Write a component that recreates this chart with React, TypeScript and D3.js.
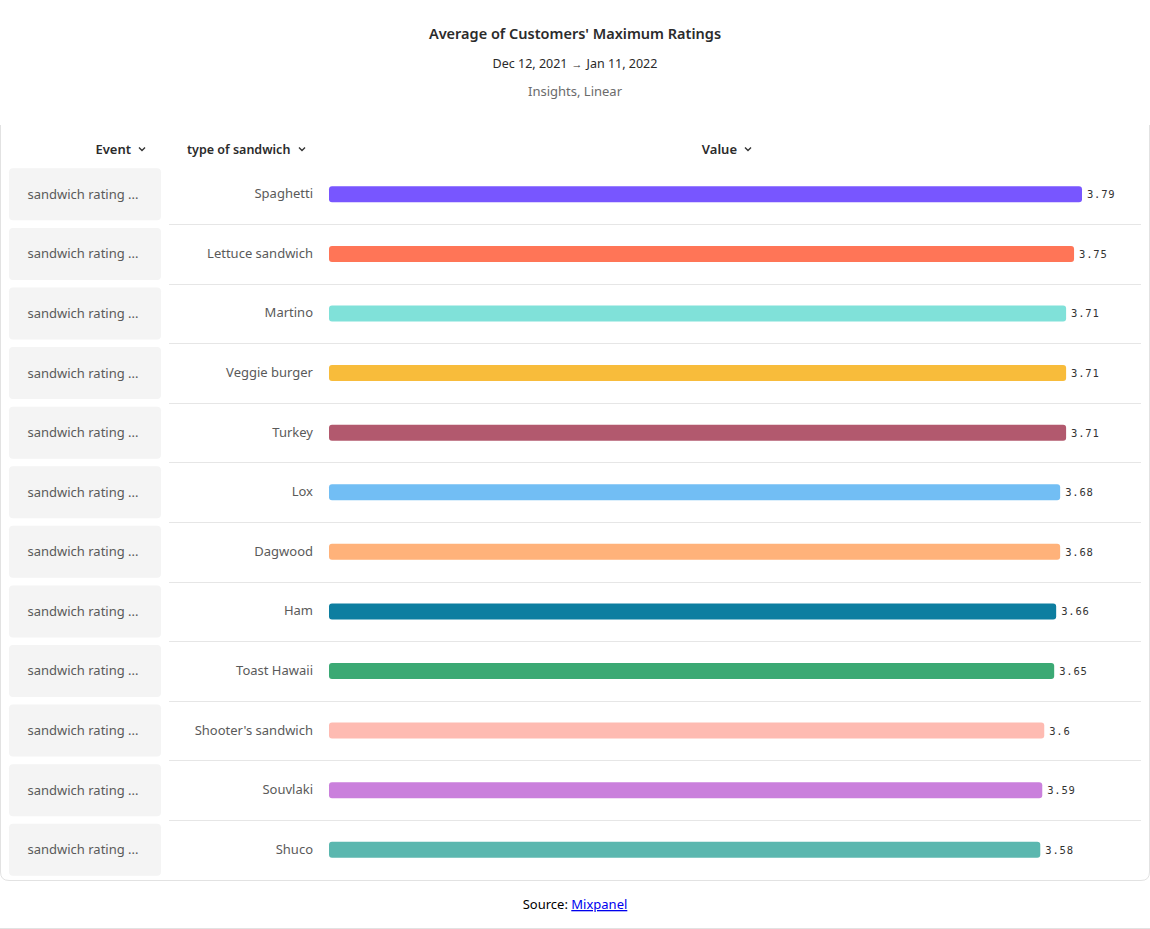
import React from "react";
import * as d3 from "d3";

const categories = [
  "Spaghetti",
  "Lettuce sandwich",
  "Martino",
  "Veggie burger",
  "Turkey",
  "Lox",
  "Dagwood",
  "Ham",
  "Toast Hawaii",
  "Shooter's sandwich",
  "Souvlaki",
  "Shuco",
];
const values = [3.79, 3.75, 3.71, 3.71, 3.71, 3.68, 3.68, 3.66, 3.65, 3.6, 3.59, 3.58];
const colors = [
  "#7856FF", "#FF7557", "#80E1D9", "#F8BC3B", "#B2596E", "#72BEF4",
  "#FFB27A", "#0D7EA0", "#3BA974", "#FEBBB2", "#CA80DC", "#5BB7AF",
];
const eventLabel = "sandwich rating ...";
const title = "Average of Customers' Maximum Ratings";
const dateStart = "Dec 12, 2021";
const dateEnd = "Jan 11, 2022";
const subtitle = "Insights, Linear";

const W = 1150;
const H = 929;
const FONT = "'Noto Sans', sans-serif";

function Chevron({ x, y }: { x: number; y: number }) {
  return (
    <path
      d={`M${x - 3},${y - 1.5} L${x},${y + 1.5} L${x + 3},${y - 1.5}`}
      fill="none"
      stroke="#333"
      strokeWidth={1.4}
    />
  );
}

export default function App() {
  const x = d3.scaleLinear().domain([0, d3.max(values) as number]).range([329, 1082]);
  const y = d3
    .scaleBand<string>()
    .domain(categories)
    .range([164.5, 879.5])
    .paddingInner(0)
    .paddingOuter(0);
  const bw = y.bandwidth();
  const barH = 16;

  return (
    <div style={{ position: "absolute", left: 0, top: 0 }}>
      <svg width={W} height={H} style={{ display: "block", fontFamily: FONT }}>
        <rect x={0} y={0} width={W} height={H} fill="#fff" />
        <text x={575} y={39} textAnchor="middle" fontSize={14.5} fontWeight={600} fill="#2b2b2b">
          {title}
        </text>
        <text x={575} y={68} textAnchor="middle" fontSize={12.5} fill="#2b2b2b">
          <tspan>{dateStart}</tspan>
          <tspan fontSize={11} dx={4} dy={-0.5}>{"\u2192"}</tspan>
          <tspan dx={4} dy={0.5}>{dateEnd}</tspan>
        </text>
        <text x={575} y={96} textAnchor="middle" fontSize={13} fill="#6b6b6b">
          {subtitle}
        </text>

        {/* card */}
        <path
          d={`M0.5,125 L0.5,872 Q0.5,880.5 9,880.5 L1141,880.5 Q1149.5,880.5 1149.5,872 L1149.5,125`}
          fill="none"
          stroke="#e2e2e2"
          strokeWidth={1}
        />

        {/* headers */}
        <text x={131} y={154} textAnchor="end" fontSize={13} fontWeight={600} fill="#2b2b2b">
          Event
        </text>
        <Chevron x={142} y={149} />
        <text x={187} y={154} textAnchor="start" fontSize={12.5} fontWeight={600} fill="#2b2b2b">
          type of sandwich
        </text>
        <Chevron x={302} y={149} />
        <text x={737} y={154} textAnchor="end" fontSize={13} fontWeight={600} fill="#2b2b2b">
          Value
        </text>
        <Chevron x={748} y={149} />

        {categories.map((c, i) => {
          const y0 = y(c) as number;
          const cy = y0 + bw / 2;
          return (
            <g key={c}>
              <rect x={9} y={cy - 26} width={152} height={52} rx={4} fill="#f4f4f4" />
              <text x={83} y={cy + 4.5} textAnchor="middle" fontSize={13} fill="#5a5a5a">
                {eventLabel}
              </text>
              <text x={313} y={cy + 4} textAnchor="end" fontSize={13} fill="#5a5a5a">
                {c}
              </text>
              <rect
                x={x(0)}
                y={cy - barH / 2}
                width={x(values[i]) - x(0)}
                height={barH}
                rx={3}
                fill={colors[i]}
              />
              <text
                x={x(values[i]) + 5}
                y={cy + 4}
                fontSize={10.5}
                fontFamily="'DejaVu Sans Mono', monospace"
                letterSpacing={0.8}
                fill="#333"
              >
                {String(values[i])}
              </text>
              {i < categories.length - 1 && (
                <line
                  x1={169}
                  x2={1141}
                  y1={Math.round(y0 + bw) + 0.5}
                  y2={Math.round(y0 + bw) + 0.5}
                  stroke="#e6e6e6"
                />
              )}
            </g>
          );
        })}

        <text x={575} y={909} textAnchor="middle" fontSize={13} fill="#000">
          <tspan>Source: </tspan>
          <tspan fill="#0000EE" textDecoration="underline">
            Mixpanel
          </tspan>
        </text>
        <line x1={0} x2={W} y1={928.5} y2={928.5} stroke="#e2e2e2" />
      </svg>
    </div>
  );
}
